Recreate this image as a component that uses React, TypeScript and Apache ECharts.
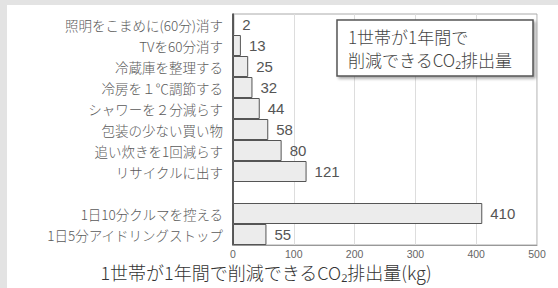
import React, { useEffect, useRef } from "react";
import * as echarts from "echarts";

const categories = [
  "照明をこまめに(60分)消す",
  "TVを60分消す",
  "冷蔵庫を整理する",
  "冷房を１℃調節する",
  "シャワーを２分減らす",
  "包装の少ない買い物",
  "追い炊きを1回減らす",
  "リサイクルに出す",
  "",
  "1日10分クルマを控える",
  "1日5分アイドリングストップ",
];
const values: (number | string)[] = [2, 13, 25, 32, 44, 58, 80, 121, "-", 410, 55];
const xTicks = { min: 0, max: 500, interval: 100 };
const axisTitle = "1世帯が1年間で削減できるCO₂排出量(kg)";
const boxLine1 = "1世帯が1年間で";
const boxLine2 = "削減できるCO₂排出量";

const FONT = "'Noto Sans CJK JP', 'Noto Sans', sans-serif";
const NUM = "'Liberation Sans', 'DejaVu Sans', sans-serif";

export default function App() {
  const ref = useRef<HTMLDivElement>(null);
  useEffect(() => {
    if (!ref.current) return;
    const chart = echarts.init(ref.current, null, { renderer: "svg" });
    chart.setOption({
      animation: false,
      backgroundColor: "#ffffff",
      textStyle: { fontFamily: FONT },
      grid: {
        left: 233,
        right: 21,
        top: 14,
        bottom: 43,
        show: true,
        borderColor: "#aaaaaa",
        borderWidth: 1,
        containLabel: false,
      },
      xAxis: {
        type: "value",
        min: xTicks.min,
        max: xTicks.max,
        interval: xTicks.interval,
        axisLine: { show: true, lineStyle: { color: "#999999", width: 1 } },
        axisTick: { show: false },
        axisLabel: { fontSize: 10.5, color: "#666666", margin: 3, fontFamily: NUM },
        splitLine: { show: true, lineStyle: { color: "#dddddd", width: 1 } },
      },
      yAxis: {
        type: "category",
        data: categories,
        inverse: true,
        axisLine: { show: true, lineStyle: { color: "#333333", width: 1.5 } },
        axisTick: { show: false },
        axisLabel: { fontSize: 13.5, color: "#5a5a5a", margin: 10, fontFamily: FONT, fontWeight: 300 },
        splitLine: { show: false },
      },
      series: [
        {
          type: "bar",
          data: values,
          barCategoryGap: "0%",
          itemStyle: { color: "#ececec", borderColor: "#555555", borderWidth: 1 },
          label: {
            show: true,
            position: "right",
            distance: 8,
            fontSize: 15,
            color: "#555555",
            fontFamily: NUM,
          },
        },
      ],
      graphic: [
        { type: "rect", shape: { x: 0, y: 0, width: 558, height: 5 }, style: { fill: "#e3e3e3" }, silent: true },
        { type: "rect", shape: { x: 0, y: 0, width: 7, height: 288 }, style: { fill: "#e3e3e3" }, silent: true },
        {
          type: "rect",
          shape: { x: 337, y: 20, width: 196, height: 56 },
          style: {
            fill: "#ffffff",
            stroke: "#555555",
            lineWidth: 1.5,
            shadowBlur: 3,
            shadowOffsetX: 2,
            shadowOffsetY: 2,
            shadowColor: "rgba(0,0,0,0.35)",
          },
          z: 10,
        },
        {
          type: "text",
          x: 348,
          y: 36,
          z: 11,
          style: {
            text: boxLine1,
            fontSize: 17,
            fill: "#444444",
            fontFamily: FONT,
            fontWeight: 300,
            verticalAlign: "middle",
          },
        },
        {
          type: "text",
          x: 348,
          y: 59,
          z: 11,
          style: {
            text: boxLine2,
            fontSize: 17,
            fill: "#444444",
            fontFamily: FONT,
            fontWeight: 300,
            verticalAlign: "middle",
          },
        },
        {
          type: "text",
          x: 266,
          y: 272,
          style: {
            text: axisTitle,
            fontSize: 18,
            fill: "#333333",
            fontFamily: FONT,
            fontWeight: 300,
            align: "center",
            verticalAlign: "middle",
          },
        },
      ],
    });
    return () => chart.dispose();
  }, []);
  return (
    <div
      ref={ref}
      style={{ position: "fixed", left: 0, top: 0, width: 558, height: 288 }}
    />
  );
}
